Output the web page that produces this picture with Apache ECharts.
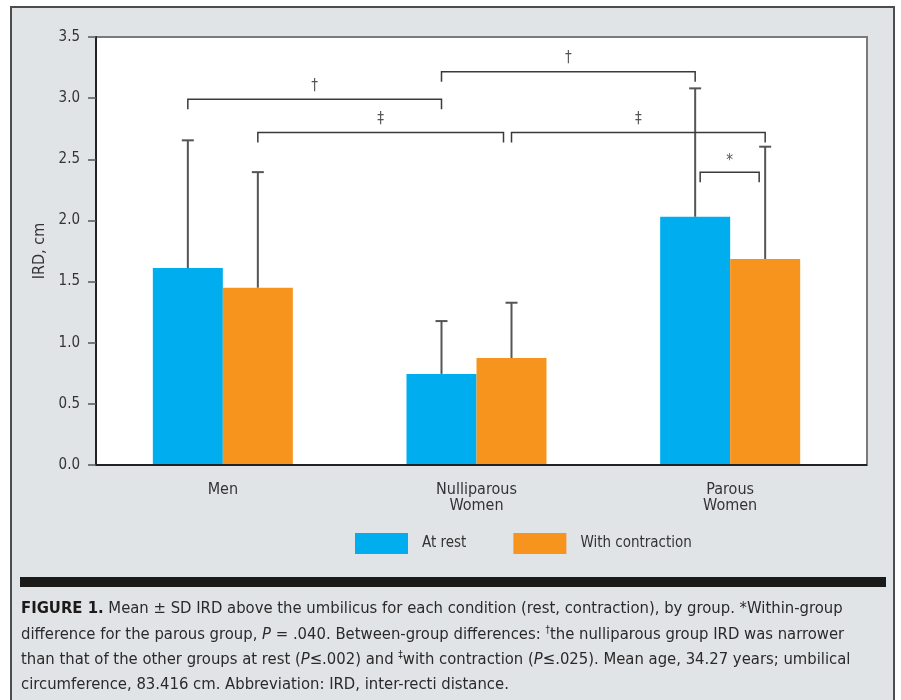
<!DOCTYPE html>
<html>
<head>
<meta charset="utf-8">
<script src="https://cdn.jsdelivr.net/npm/echarts@6/dist/echarts.min.js"></script>
<style>
  html, body { margin: 0; padding: 0; background: #ffffff; }
  #frame { position: absolute; left: 10px; top: 6px; width: 885px; height: 720px;
           background: #e1e4e7; border: 2px solid #4d4d4d; box-sizing: border-box; }
  #chart { position: absolute; left: 0; top: 0; width: 901px; height: 700px; }
</style>
</head>
<body>
<div id="frame"></div>
<div id="chart"></div>
<script>
// ---- data ----
var categories = ['Men', 'Nulliparous\nWomen', 'Parous\nWomen'];
var seriesNames = ['At rest', 'With contraction'];
var restMean = [1.61, 0.745, 2.03];
var restSD = [1.045, 0.432, 1.05];
var contractionMean = [1.45, 0.875, 1.685];
var contractionSD = [0.945, 0.452, 0.918];
var yTicks = [0, 0.5, 1.0, 1.5, 2.0, 2.5, 3.0, 3.5];
// significance brackets: [fromCategory, fromSeries(0 rest/1 contraction), toCategory, toSeries, level, symbol]
var brackets = [
  [0, 0, 1, 0, 2.99, '\u2020'],
  [1, 0, 2, 0, 3.215, '\u2020'],
  [0, 1, 1, 1, 2.72, '\u2021'],
  [1, 1, 2, 1, 2.72, '\u2021'],
  [2, 0, 2, 1, 2.393, '*']
];
var captionLines = [
  '{b|FIGURE 1.} Mean \u00b1 SD IRD above the umbilicus for each condition (rest, contraction), by group. *Within-group',
  'difference for the parous group, {i|P} = .040. Between-group differences: {s|\u2020}the nulliparous group IRD was narrower',
  'than that of the other groups at rest ({i|P}\u2264.002) and {s|\u2021}with contraction ({i|P}\u2264.025). Mean age, 34.27 years; umbilical',
  'circumference, 83.416 cm. Abbreviation: IRD, inter-recti distance.'
];

// ---- styling ----
var FONT = '"Liberation Sans Narrow", "DejaVu Sans Condensed", "Roboto Condensed", sans-serif';
var BLUE = '#00aeef', ORANGE = '#f7941d';
var BAR_W = 70;
var TXT = '#333333';
var G_LEFT = 96, G_TOP = 37, G_W = 761, G_H = 428, FRAME_R = 867;

var chart = echarts.init(document.getElementById('chart'), null, { renderer: 'canvas' });

function errRender(side) {
  return function (params, api) {
    var c = api.value(0), m = api.value(1), sd = api.value(2);
    var base = api.coord([c, m]);
    var top = api.coord([c, m + sd]);
    var x = base[0] + side * BAR_W / 2;
    var st = { stroke: '#555555', lineWidth: 2 };
    return {
      type: 'group',
      children: [
        { type: 'line', shape: { x1: x, y1: base[1], x2: x, y2: top[1] }, style: st },
        { type: 'line', shape: { x1: x - 6, y1: top[1], x2: x + 6, y2: top[1] }, style: st }
      ]
    };
  };
}

function bracketRender(params, api) {
  var idx = params.dataIndex;
  var b = brackets[idx];
  var level = b[4];
  var p0 = api.coord([b[0], level]);
  var p1 = api.coord([b[2], level]);
  var x0 = p0[0] + (b[1] === 0 ? -1 : 1) * BAR_W / 2;
  var x1 = p1[0] + (b[3] === 0 ? -1 : 1) * BAR_W / 2;
  if (idx === 2) { x1 -= 8; }
  if (idx === 4) { x0 += 5; x1 -= 6; }
  var y = p0[1];
  var leg = 10;
  var textOff = b[5] === '*' ? 4 : 6;
  return {
    type: 'group',
    children: [
      { type: 'polyline', shape: { points: [[x0, y + leg], [x0, y], [x1, y], [x1, y + leg]] },
        style: { stroke: '#3a3a3a', lineWidth: 1.5, fill: null } },
      { type: 'text', x: (x0 + x1) / 2, y: y - textOff,
        style: { text: b[5], fill: '#555', font: '15px ' + FONT, align: 'center', verticalAlign: 'bottom' } }
    ]
  };
}

var CAP_FS = 16.5;
var captionGraphics = captionLines.map(function (line, i) {
  return {
    type: 'text', left: 21, top: 600 + i * 25.3,
    style: {
      text: line, fill: '#2a2a2a', font: CAP_FS + 'px ' + FONT,
      rich: {
        b: { fontWeight: 'bold', fontSize: CAP_FS, fontFamily: FONT, fill: '#1a1a1a' },
        i: { fontStyle: 'italic', fontSize: CAP_FS, fontFamily: FONT, fill: '#2a2a2a' },
        s: { fontSize: 10, fontFamily: FONT, fill: '#2a2a2a', verticalAlign: 'top', padding: [0, 0, 8, 0] }
      }
    }
  };
});

var option = {
  backgroundColor: 'transparent',
  animation: false,
  textStyle: { fontFamily: FONT },
  grid: { left: G_LEFT, top: G_TOP, width: G_W, height: G_H, show: false },
  legend: {
    left: 355, top: 533, padding: 0,
    itemWidth: 53, itemHeight: 21, itemGap: 47,
    icon: 'rect',
    data: seriesNames,
    textStyle: { color: TXT, fontSize: 15, fontFamily: FONT, padding: [0, 0, 0, 9] }
  },
  xAxis: {
    type: 'category',
    data: categories,
    axisLine: { show: false },
    axisTick: { show: false },
    axisLabel: { color: TXT, fontSize: 16, fontFamily: FONT, margin: 17, lineHeight: 16 }
  },
  yAxis: {
    type: 'value', min: 0, max: 3.5, interval: 0.5,
    name: 'IRD, cm', nameLocation: 'middle', nameGap: 46,
    nameTextStyle: { color: TXT, fontSize: 16, fontFamily: FONT },
    axisLine: { show: true, lineStyle: { color: '#222', width: 2 } },
    axisTick: { show: true, inside: false, length: 8, lineStyle: { color: '#555', width: 1.5 } },
    splitLine: { show: false },
    axisLabel: {
      color: TXT, fontSize: 15, fontFamily: FONT, margin: 16,
      formatter: function (v) { return yTicks.indexOf(v) >= 0 ? v.toFixed(1) : ''; }
    }
  },
  series: [
    { name: seriesNames[0], type: 'bar', data: restMean, barWidth: BAR_W, barGap: '0%',
      itemStyle: { color: BLUE } },
    { name: seriesNames[1], type: 'bar', data: contractionMean, barWidth: BAR_W, barGap: '0%',
      itemStyle: { color: ORANGE } },
    { type: 'custom', renderItem: errRender(-1), z: 5,
      data: restMean.map(function (m, i) { return [i, m, restSD[i]]; }),
      encode: { x: 0, y: 1 } },
    { type: 'custom', renderItem: errRender(1), z: 5,
      data: contractionMean.map(function (m, i) { return [i, m, contractionSD[i]]; }),
      encode: { x: 0, y: 1 } },
    { type: 'custom', renderItem: bracketRender, z: 6,
      data: brackets.map(function (b) { return [b[0], b[4]]; }),
      encode: { x: 0, y: 1 } }
  ],
  graphic: [
    // plot frame (white panel with grey top/right border)
    { type: 'rect', z: -10, shape: { x: G_LEFT, y: G_TOP, width: FRAME_R - G_LEFT, height: G_H },
      style: { fill: '#ffffff', stroke: '#7a7a7a', lineWidth: 2 } },
    // baseline along the bottom of the panel
    { type: 'line', z: 10, shape: { x1: G_LEFT, y1: G_TOP + G_H, x2: FRAME_R, y2: G_TOP + G_H },
      style: { stroke: '#222', lineWidth: 2 } },
    { type: 'rect', left: 20, top: 577, shape: { width: 866, height: 10 }, style: { fill: '#1a1a1a' } }
  ].concat(captionGraphics)
};
chart.setOption(option);
</script>
</body>
</html>
